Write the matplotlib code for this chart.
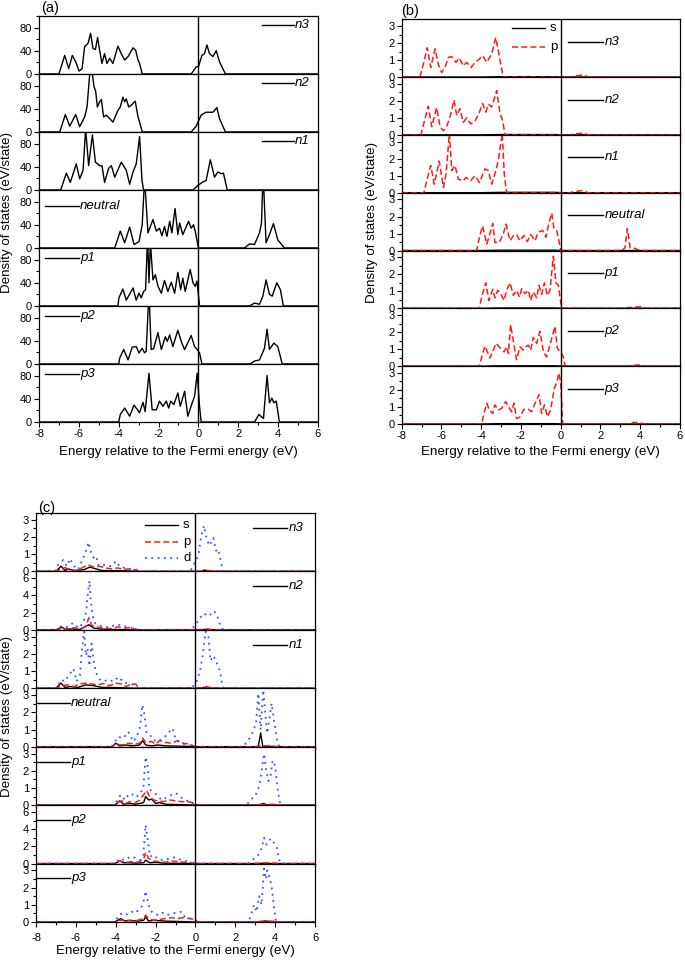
import numpy as np
from matplotlib import pyplot as plt
from matplotlib.ticker import MultipleLocator

plt.rcParams['font.family'] = ['Liberation Sans', 'DejaVu Sans']
plt.rcParams['axes.unicode_minus'] = False

# ---------------- (a) total DOS, (E, DOS) pairs ----------------
a_n3 = [(-8, 0), (-7.0, 0), (-6.71, 32), (-6.51, 9), (-6.33, 32), (-6.16, 21), (-5.99, 5), (-5.84, 9),
        (-5.71, 47), (-5.54, 53), (-5.41, 70), (-5.29, 44), (-5.17, 42), (-5.06, 63), (-4.96, 41),
        (-4.84, 18), (-4.71, 35), (-4.59, 18), (-4.45, 27), (-4.29, 18), (-4.04, 48), (-3.87, 35),
        (-3.70, 24), (-3.53, 30), (-3.28, 45), (-3.15, 41), (-3.03, 24), (-2.95, 18), (-2.82, 0),
        (-0.36, 0), (-0.11, 12), (0.01, 13), (0.18, 32), (0.31, 35), (0.43, 50), (0.56, 35),
        (0.73, 30), (0.90, 40), (1.06, 21), (1.36, 0), (6, 0)]
a_n2 = [(-8, 0), (-6.96, 0), (-6.68, 30), (-6.46, 10), (-6.16, 30), (-5.96, 9), (-5.71, 26), (-5.59, 43),
        (-5.46, 98), (-5.38, 115), (-5.24, 78), (-5.16, 71), (-5.07, 43), (-4.96, 52), (-4.87, 56),
        (-4.76, 26), (-4.62, 29), (-4.45, 23), (-4.29, 17), (-4.04, 37), (-3.92, 43), (-3.79, 60),
        (-3.70, 52), (-3.62, 57), (-3.50, 43), (-3.37, 46), (-3.17, 53), (-3.03, 26), (-2.95, 17),
        (-2.82, 0), (-0.36, 0), (-0.11, 10), (0.14, 29), (0.39, 34), (0.73, 34), (0.93, 42),
        (1.06, 23), (1.36, 0), (6, 0)]
a_n1 = [(-8, 0), (-6.91, 0), (-6.63, 29), (-6.43, 13), (-6.13, 45), (-5.96, 19), (-5.79, 34), (-5.66, 105),
        (-5.51, 42), (-5.32, 95), (-5.17, 48), (-4.96, 42), (-4.84, 42), (-4.71, 13), (-4.51, 37),
        (-4.37, 42), (-4.20, 22), (-3.87, 48), (-3.62, 34), (-3.45, 10), (-3.28, 31), (-3.12, 45),
        (-2.95, 92), (-2.83, 16), (-2.75, 0), (-0.27, 0), (-0.02, 8), (0.23, 14), (0.39, 16),
        (0.60, 52), (0.81, 22), (0.98, 31), (1.15, 28), (1.26, 29), (1.45, 0), (6, 0)]
a_neutral = [(-8, 0), (-4.20, 0), (-3.92, 29), (-3.70, 9), (-3.45, 36), (-3.23, 6), (-2.98, 11), (-2.82, 40),
             (-2.70, 120), (-2.53, 26), (-2.28, 49), (-2.11, 29), (-1.95, 34), (-1.83, 21), (-1.70, 37),
             (-1.58, 20), (-1.44, 46), (-1.33, 26), (-1.17, 68), (-1.03, 23), (-0.94, 43), (-0.78, 23),
             (-0.49, 46), (-0.36, 34), (-0.24, 40), (-0.14, 26), (0.0, 0), (2.32, 0), (2.57, 7),
             (2.82, 6), (3.07, 26), (3.17, 43), (3.25, 130), (3.40, 9), (3.57, 23), (3.77, 42),
             (3.99, 14), (4.32, 0), (6, 0)]
a_p1 = [(-8, 0), (-4.04, 0), (-3.99, 14), (-3.79, 29), (-3.62, 10), (-3.28, 31), (-3.12, 10), (-2.98, 22),
        (-2.87, 14), (-2.75, 25), (-2.65, 28), (-2.55, 120), (-2.48, 40), (-2.41, 110), (-2.28, 45),
        (-2.16, 54), (-2.03, 34), (-1.86, 22), (-1.70, 44), (-1.53, 25), (-1.36, 41), (-1.19, 22),
        (-1.03, 58), (-0.89, 28), (-0.78, 48), (-0.66, 25), (-0.41, 63), (-0.27, 40), (-0.16, 34),
        (-0.07, 43), (0.06, 0), (2.57, 0), (2.82, 5), (3.07, 3), (3.24, 17), (3.40, 45), (3.57, 20),
        (3.71, 17), (3.94, 40), (4.12, 28), (4.27, 0), (6, 0)]
a_p2 = [(-8, 0), (-4.00, 0), (-3.95, 10), (-3.75, 25), (-3.53, 7), (-3.32, 29), (-3.12, 30), (-2.98, 19),
        (-2.82, 27), (-2.70, 19), (-2.62, 22), (-2.48, 125), (-2.37, 25), (-2.25, 26), (-2.03, 54),
        (-1.86, 25), (-1.66, 47), (-1.56, 39), (-1.44, 50), (-1.28, 30), (-1.03, 58), (-0.83, 36),
        (-0.69, 25), (-0.36, 49), (-0.19, 30), (-0.06, 25), (0.06, 19), (0.18, 0), (2.60, 0),
        (2.82, 5), (3.07, 7), (3.32, 27), (3.45, 60), (3.57, 25), (3.79, 36), (3.99, 30), (4.21, 0),
        (6, 0)]
a_p3 = [(-8, 0), (-4.00, 0), (-3.92, 13), (-3.70, 24), (-3.45, 10), (-3.23, 29), (-2.95, 16), (-2.78, 34),
        (-2.67, 18), (-2.48, 84), (-2.32, 21), (-2.11, 21), (-1.95, 36), (-1.78, 27), (-1.61, 36),
        (-1.49, 24), (-1.39, 36), (-1.23, 30), (-1.03, 50), (-0.91, 27), (-0.69, 53), (-0.53, 10),
        (-0.31, 33), (-0.19, 44), (-0.06, 84), (0.06, 27), (0.14, 0), (2.82, 0), (3.04, 13),
        (3.27, 6), (3.45, 80), (3.57, 33), (3.69, 41), (3.79, 33), (3.91, 36), (4.07, 0), (6, 0)]

# ---------------- (b) s and p projected DOS ----------------
b_n3_p = [(-8, 0), (-7.08, 0), (-6.91, 0.76), (-6.71, 1.72), (-6.54, 0.56), (-6.32, 1.66), (-6.16, 0.76),
          (-5.99, 0.26), (-5.82, 0.56), (-5.65, 1.16), (-5.48, 1.2), (-5.27, 0.86), (-5.10, 1.12),
          (-4.90, 0.66), (-4.73, 0.86), (-4.51, 0.56), (-4.31, 0.86), (-4.09, 1.06), (-3.93, 1.26),
          (-3.72, 0.86), (-3.47, 1.36), (-3.27, 2.32), (-3.14, 1.56), (-3.02, 0.76), (-2.89, 0),
          (0.47, 0), (0.64, 0.05), (1.10, 0.12), (1.39, 0), (6, 0)]
b_n2_p = [(-8, 0), (-7.03, 0), (-6.83, 0.94), (-6.66, 1.68), (-6.49, 0.48), (-6.24, 1.6), (-6.07, 0.48),
          (-5.90, 0.24), (-5.74, 0.48), (-5.57, 1.04), (-5.37, 2.04), (-5.23, 1.14), (-5.07, 1.54),
          (-4.90, 0.74), (-4.73, 1.0), (-4.53, 0.64), (-4.31, 0.8), (-4.09, 1.34), (-3.93, 1.84),
          (-3.76, 1.34), (-3.64, 1.8), (-3.47, 1.64), (-3.22, 2.6), (-3.05, 1.24), (-2.92, 0.84),
          (-2.80, 0), (0.47, 0), (0.64, 0.05), (1.14, 0.1), (1.39, 0), (6, 0)]
b_n1_p = [(-8, 0), (-6.88, 0), (-6.74, 0.7), (-6.54, 1.6), (-6.36, 0.5), (-6.11, 1.86), (-5.90, 0.3),
          (-5.77, 1.1), (-5.60, 3.5), (-5.48, 1.3), (-5.32, 1.6), (-5.15, 0.8), (-4.90, 0.7),
          (-4.76, 0.9), (-4.53, 0.7), (-4.31, 1.0), (-4.09, 0.6), (-3.81, 1.4), (-3.64, 1.3),
          (-3.47, 0.5), (-3.31, 1.1), (-3.14, 1.9), (-2.94, 3.5), (-2.84, 1.1), (-2.72, 0),
          (0.47, 0), (0.64, 0.05), (1.05, 0.12), (1.39, 0), (6, 0)]
b_neutral_p = [(-8, 0), (-4.23, 0), (-4.09, 0.78), (-3.93, 1.45), (-3.72, 0.37), (-3.59, 0.88), (-3.42, 1.59),
               (-3.31, 0.47), (-3.09, 0.47), (-2.89, 0.98), (-2.75, 1.55), (-2.55, 0.57), (-2.38, 0.88),
               (-2.22, 0.94), (-2.05, 0.57), (-1.85, 0.88), (-1.68, 0.53), (-1.51, 0.94), (-1.29, 0.57),
               (-1.13, 1.08), (-0.91, 1.18), (-0.74, 0.78), (-0.62, 1.49), (-0.45, 2.2), (-0.34, 1.29),
               (-0.20, 1.18), (-0.09, 0.57), (0.0, 0), (3.07, 0), (3.23, 0.16), (3.35, 1.29),
               (3.49, 0.16), (3.74, 0.12), (3.99, 0), (6, 0)]
b_p1_p = [(-8, 0), (-4.09, 0), (-3.98, 0.66), (-3.77, 1.5), (-3.61, 0.46), (-3.42, 1.12), (-3.31, 0.62),
          (-3.17, 1.06), (-3.02, 0.86), (-2.85, 0.46), (-2.72, 1.06), (-2.55, 1.5), (-2.38, 0.76),
          (-2.22, 1.06), (-2.08, 0.66), (-1.96, 1.16), (-1.80, 0.86), (-1.63, 1.06), (-1.51, 0.46),
          (-1.38, 0.96), (-1.21, 0.62), (-1.09, 1.36), (-0.96, 0.82), (-0.82, 1.5), (-0.67, 0.76),
          (-0.54, 1.06), (-0.37, 3.06), (-0.24, 1.5), (-0.12, 1.36), (0.0, 0.36), (0.05, 0),
          (2.98, 0), (3.49, 0.05), (4.07, 0.1), (4.24, 0), (6, 0)]
b_p2_p = [(-8, 0), (-4.09, 0), (-3.93, 0.74), (-3.81, 1.18), (-3.56, 0.48), (-3.25, 1.34), (-3.02, 1.04),
          (-2.85, 0.84), (-2.72, 1.14), (-2.63, 0.74), (-2.52, 2.44), (-2.38, 1.44), (-2.22, 0.38),
          (-2.05, 1.14), (-1.88, 0.94), (-1.75, 1.14), (-1.63, 1.24), (-1.51, 0.94), (-1.38, 1.7),
          (-1.21, 1.34), (-1.04, 2.04), (-0.87, 0.84), (-0.71, 0.54), (-0.54, 1.24), (-0.29, 2.34),
          (-0.17, 1.04), (0.0, 0.84), (0.13, 0.54), (0.22, 0), (3.32, 0), (3.57, 0.05), (4.07, 0.08),
          (4.24, 0), (6, 0)]
b_p3_p = [(-8, 0), (-3.98, 0), (-3.86, 0.62), (-3.72, 1.22), (-3.59, 0.82), (-3.42, 0.62), (-3.31, 1.12),
          (-3.14, 0.82), (-2.97, 0.92), (-2.77, 1.32), (-2.63, 1.02), (-2.47, 0.72), (-2.35, 1.22),
          (-2.22, 0.32), (-2.05, 0.42), (-1.85, 0.86), (-1.63, 0.86), (-1.46, 0.72), (-1.29, 1.22),
          (-1.09, 1.72), (-0.96, 0.62), (-0.82, 1.12), (-0.67, 0.42), (-0.51, 0.82), (-0.32, 2.12),
          (-0.20, 2.42), (-0.09, 3.0), (0.0, 2.42), (0.10, 0), (3.49, 0), (3.65, 0.1), (4.07, 0.05),
          (4.24, 0), (6, 0)]
b_s = [(-8, 0), (-4.0, 0), (-3.0, 0.02), (-0.3, 0.02), (0.1, 0), (6, 0)]

# ---------------- (c) s, p and d projected DOS ----------------
c_n3_s = [(-8, 0), (-7.0, 0), (-6.75, 0.3), (-6.55, 0.05), (-6.4, 0.15), (-6.1, 0.05), (-5.6, 0.1),
          (-5.3, 0.25), (-5.0, 0.15), (-4.7, 0.05), (-4.3, 0.05), (-3.5, 0.03), (-2.8, 0), (0.3, 0),
          (0.45, 0.08), (0.65, 0.02), (0.9, 0), (6, 0)]
c_n3_p = [(-8, 0), (-7.05, 0), (-6.8, 0.1), (-6.55, 0.22), (-6.3, 0.1), (-6.0, 0.05), (-5.7, 0.2),
          (-5.4, 0.38), (-5.1, 0.25), (-4.8, 0.3), (-4.5, 0.2), (-4.2, 0.15), (-3.9, 0.2), (-3.6, 0.12),
          (-3.3, 0.15), (-3.0, 0.08), (-2.78, 0), (0.2, 0), (0.5, 0.06), (0.9, 0.03), (1.4, 0), (6, 0)]
c_n3_d = [(-8, 0), (-7.05, 0), (-6.88, 0.4), (-6.63, 0.66), (-6.46, 0.3), (-6.29, 0.74), (-6.13, 0.34),
          (-5.88, 0.1), (-5.71, 0.6), (-5.54, 1.0), (-5.37, 1.7), (-5.26, 1.2), (-5.12, 0.8), (-4.99, 0.9),
          (-4.87, 0.34), (-4.71, 0.4), (-4.45, 0.34), (-4.20, 0.3), (-3.99, 0.6), (-3.79, 0.26),
          (-3.54, 0.2), (-3.28, 0.14), (-2.95, 0.1), (-2.78, 0), (-0.27, 0), (-0.11, 0.34), (0.14, 0.9),
          (0.28, 2.0), (0.43, 2.66), (0.56, 1.9), (0.70, 1.5), (0.90, 1.94), (1.03, 1.2), (1.15, 1.3),
          (1.36, 0.1), (1.43, 0), (6, 0)]
c_n2_s = [(-8, 0), (-7.0, 0), (-6.7, 0.3), (-6.5, 0.05), (-6.2, 0.1), (-5.8, 0.05), (-5.35, 0.6),
          (-5.1, 0.2), (-4.8, 0.1), (-4.3, 0.05), (-3.0, 0), (0.3, 0), (0.6, 0.08), (0.9, 0), (6, 0)]
c_n2_p = [(-8, 0), (-7.0, 0), (-6.7, 0.15), (-6.4, 0.1), (-6.1, 0.25), (-5.8, 0.1), (-5.5, 0.4),
          (-5.35, 1.4), (-5.2, 0.5), (-4.9, 0.3), (-4.6, 0.2), (-4.2, 0.15), (-3.9, 0.35), (-3.6, 0.2),
          (-3.3, 0.25), (-3.0, 0.1), (-2.85, 0), (0.3, 0.03), (0.8, 0.05), (1.3, 0), (6, 0)]
c_n2_d = [(-8, 0), (-6.96, 0), (-6.71, 0.48), (-6.46, 0.32), (-6.13, 0.8), (-5.88, 0.2), (-5.63, 0.8),
          (-5.49, 2.0), (-5.41, 4.0), (-5.32, 5.7), (-5.26, 3.6), (-5.16, 1.6), (-5.04, 0.8), (-4.79, 0.48),
          (-4.45, 0.32), (-4.12, 0.48), (-3.87, 0.6), (-3.70, 0.48), (-3.37, 0.32), (-3.12, 0.2),
          (-2.87, 0), (-0.27, 0), (-0.02, 0.48), (0.23, 1.4), (0.43, 1.92), (0.60, 1.6), (0.76, 1.8),
          (0.93, 2.2), (1.10, 1.6), (1.26, 0.4), (1.40, 0), (6, 0)]
c_n1_s = [(-8, 0), (-7.0, 0), (-6.75, 0.3), (-6.55, 0.05), (-6.3, 0.1), (-5.9, 0.05), (-5.5, 0.2),
          (-5.1, 0.15), (-4.7, 0.05), (-4.3, 0.05), (-3.0, 0), (0.3, 0), (0.55, 0.08), (0.8, 0), (6, 0)]
c_n1_p = [(-8, 0), (-7.0, 0), (-6.7, 0.15), (-6.4, 0.2), (-6.1, 0.1), (-5.8, 0.25), (-5.5, 0.3),
          (-5.2, 0.25), (-4.9, 0.2), (-4.6, 0.28), (-4.3, 0.15), (-4.0, 0.3), (-3.7, 0.25), (-3.5, 0.1),
          (-3.3, 0.2), (-3.0, 0.25), (-2.85, 0), (0.3, 0.03), (0.7, 0.05), (1.2, 0), (6, 0)]
c_n1_d = [(-8, 0), (-6.96, 0), (-6.75, 0.5), (-6.55, 0.4), (-6.38, 0.7), (-6.13, 1.14), (-5.96, 0.4),
          (-5.79, 0.8), (-5.71, 2.1), (-5.59, 3.3), (-5.49, 1.9), (-5.41, 2.3), (-5.32, 1.3), (-5.21, 2.6),
          (-5.12, 1.7), (-4.99, 0.9), (-4.79, 0.5), (-4.62, 0.4), (-4.37, 0.5), (-4.12, 0.4), (-3.84, 0.66),
          (-3.62, 0.34), (-3.37, 0.3), (-3.12, 0.2), (-2.87, 0), (-0.19, 0), (0.06, 0.4), (0.23, 1.0),
          (0.36, 1.9), (0.51, 3.3), (0.65, 3.0), (0.76, 1.6), (0.90, 1.9), (1.06, 1.5), (1.23, 1.0),
          (1.36, 0.1), (1.43, 0), (6, 0)]
c_neutral_s = [(-8, 0), (-4.2, 0), (-4.0, 0.2), (-3.8, 0.05), (-3.5, 0.1), (-3.2, 0.05), (-2.8, 0.1),
               (-2.65, 0.35), (-2.5, 0.1), (-2.2, 0.05), (-1.9, 0.1), (-1.5, 0.05), (-0.5, 0.02), (0.0, 0),
               (3.15, 0), (3.27, 0.8), (3.38, 0), (3.6, 0.02), (4.0, 0), (6, 0)]
c_neutral_p = [(-8, 0), (-4.2, 0), (-4.0, 0.15), (-3.7, 0.1), (-3.4, 0.2), (-3.0, 0.15), (-2.8, 0.2),
               (-2.65, 0.5), (-2.5, 0.25), (-2.2, 0.3), (-2.0, 0.15), (-1.8, 0.35), (-1.5, 0.25), (-1.2, 0.2),
               (-0.9, 0.35), (-0.6, 0.2), (-0.3, 0.15), (0.0, 0), (3.0, 0), (3.3, 0.05), (3.8, 0.04),
               (4.2, 0), (6, 0)]
c_neutral_d = [(-8, 0), (-4.20, 0), (-4.04, 0.3), (-3.87, 0.58), (-3.62, 0.49), (-3.37, 0.87), (-3.12, 0.3),
               (-2.95, 0.58), (-2.78, 1.16), (-2.67, 2.43), (-2.57, 1.94), (-2.45, 0.78), (-2.28, 0.68),
               (-2.12, 0.39), (-1.87, 0.3), (-1.62, 0.49), (-1.45, 0.68), (-1.31, 0.87), (-1.15, 1.07),
               (-1.03, 0.58), (-0.86, 0.3), (-0.61, 0.16), (-0.11, 0.04), (0.0, 0), (2.40, 0), (2.65, 0.39),
               (2.82, 0.68), (3.04, 1.36), (3.15, 3.1), (3.27, 0.97), (3.40, 3.3), (3.52, 1.75), (3.60, 0.78),
               (3.70, 1.55), (3.82, 2.52), (3.94, 1.55), (4.07, 0.49), (4.20, 0), (6, 0)]
c_p1_s = [(-8, 0), (-4.05, 0), (-3.8, 0.25), (-3.6, 0.05), (-3.3, 0.1), (-3.0, 0.05), (-2.6, 0.15),
          (-2.5, 0.5), (-2.35, 0.3), (-2.2, 0.35), (-2.0, 0.1), (-1.8, 0.15), (-1.5, 0.05), (-0.5, 0.02),
          (0.0, 0), (3.2, 0), (3.4, 0.1), (3.6, 0), (6, 0)]
c_p1_p = [(-8, 0), (-4.05, 0), (-3.9, 0.15), (-3.7, 0.25), (-3.5, 0.1), (-3.3, 0.2), (-3.0, 0.15),
          (-2.8, 0.3), (-2.6, 0.6), (-2.45, 0.85), (-2.3, 0.5), (-2.1, 0.3), (-1.9, 0.25), (-1.6, 0.2),
          (-1.3, 0.3), (-1.0, 0.25), (-0.7, 0.2), (-0.4, 0.2), (-0.15, 0.15), (0.05, 0), (2.8, 0),
          (3.4, 0.05), (4.0, 0.04), (4.3, 0), (6, 0)]
c_p1_d = [(-8, 0), (-4.04, 0), (-3.92, 0.3), (-3.75, 0.6), (-3.54, 0.3), (-3.32, 0.66), (-3.12, 0.6),
          (-2.95, 0.46), (-2.78, 0.74), (-2.62, 0.9), (-2.50, 2.8), (-2.41, 2.4), (-2.31, 0.9), (-2.15, 0.8),
          (-1.95, 0.6), (-1.70, 0.3), (-1.44, 0.46), (-1.19, 0.6), (-0.98, 0.7), (-0.78, 0.5), (-0.53, 0.3),
          (-0.27, 0.2), (-0.11, 0.06), (0.03, 0), (2.57, 0), (2.74, 0.3), (2.99, 0.5), (3.20, 1.1),
          (3.32, 2.0), (3.44, 3.0), (3.54, 2.1), (3.66, 1.4), (3.77, 1.7), (3.87, 2.6), (3.99, 2.3),
          (4.11, 1.1), (4.21, 0.3), (4.27, 0), (6, 0)]
c_p2_s = [(-8, 0), (-4.05, 0), (-3.8, 0.3), (-3.6, 0.1), (-3.3, 0.1), (-3.0, 0.05), (-2.6, 0.1),
          (-2.5, 0.4), (-2.3, 0.1), (-2.0, 0.15), (-1.6, 0.05), (0.0, 0), (3.2, 0), (3.5, 0.05),
          (3.8, 0), (6, 0)]
c_p2_p = [(-8, 0), (-4.05, 0), (-3.8, 0.3), (-3.5, 0.15), (-3.2, 0.2), (-2.9, 0.15), (-2.6, 0.5),
          (-2.5, 1.3), (-2.35, 0.6), (-2.1, 0.3), (-1.8, 0.2), (-1.5, 0.15), (-1.2, 0.3), (-0.9, 0.25),
          (-0.6, 0.15), (-0.2, 0.1), (0.0, 0), (2.8, 0), (3.5, 0.08), (4.0, 0.05), (4.3, 0), (6, 0)]
c_p2_d = [(-8, 0), (-4.04, 0), (-3.79, 0.6), (-3.54, 0.4), (-3.28, 0.8), (-3.03, 0.68), (-2.78, 0.4),
          (-2.62, 0.88), (-2.50, 4.5), (-2.40, 2.8), (-2.28, 0.8), (-2.11, 1.0), (-1.86, 0.48),
          (-1.61, 0.4), (-1.28, 0.6), (-1.03, 0.72), (-0.78, 0.48), (-0.53, 0.32), (-0.19, 0.08),
          (-0.02, 0), (2.65, 0), (2.90, 0.48), (3.15, 1.0), (3.32, 1.8), (3.44, 3.0), (3.57, 2.2),
          (3.77, 2.9), (3.94, 2.4), (4.07, 2.0), (4.21, 0.4), (4.27, 0), (6, 0)]
c_p3_s = [(-8, 0), (-4.05, 0), (-3.75, 0.2), (-3.55, 0.05), (-3.3, 0.1), (-2.9, 0.05), (-2.6, 0.1),
          (-2.5, 0.3), (-2.35, 0.05), (-2.1, 0.1), (-1.5, 0.05), (0.0, 0), (3.3, 0), (3.5, 0.06),
          (3.8, 0), (6, 0)]
c_p3_p = [(-8, 0), (-4.05, 0), (-3.8, 0.1), (-3.5, 0.1), (-3.2, 0.05), (-2.9, 0.1), (-2.6, 0.2),
          (-2.5, 0.4), (-2.35, 0.2), (-2.1, 0.1), (-1.8, 0.15), (-1.5, 0.2), (-1.2, 0.25), (-0.9, 0.2),
          (-0.6, 0.25), (-0.3, 0.2), (0.0, 0.15), (0.1, 0), (2.8, 0), (3.5, 0.06), (4.0, 0.04),
          (4.1, 0), (6, 0)]
c_p3_d = [(-8, 0), (-4.04, 0), (-3.84, 0.4), (-3.62, 0.54), (-3.42, 0.44), (-3.20, 0.6), (-3.03, 0.5),
          (-2.87, 0.7), (-2.70, 0.9), (-2.58, 1.3), (-2.50, 1.8), (-2.41, 1.3), (-2.28, 0.7), (-2.11, 0.5),
          (-1.86, 0.4), (-1.65, 0.54), (-1.41, 0.4), (-1.19, 0.5), (-0.94, 0.54), (-0.69, 0.6),
          (-0.53, 0.3), (-0.27, 0.2), (-0.02, 0.1), (0.06, 0), (2.65, 0), (2.77, 0.3), (2.94, 1.0),
          (3.07, 0.6), (3.20, 1.5), (3.32, 1.0), (3.44, 3.1), (3.54, 2.5), (3.60, 3.0), (3.71, 2.6),
          (3.82, 2.1), (3.94, 0.9), (4.04, 0), (6, 0)]

states = ['n3', 'n2', 'n1', 'neutral', 'p1', 'p2', 'p3']
a_curves = [a_n3, a_n2, a_n1, a_neutral, a_p1, a_p2, a_p3]
b_p_curves = [b_n3_p, b_n2_p, b_n1_p, b_neutral_p, b_p1_p, b_p2_p, b_p3_p]
c_s_curves = [c_n3_s, c_n2_s, c_n1_s, c_neutral_s, c_p1_s, c_p2_s, c_p3_s]
c_p_curves = [c_n3_p, c_n2_p, c_n1_p, c_neutral_p, c_p1_p, c_p2_p, c_p3_p]
c_d_curves = [c_n3_d, c_n2_d, c_n1_d, c_neutral_d, c_p1_d, c_p2_d, c_p3_d]
c_ymax = [3.4, 6.8, 3.4, 3.4, 3.4, 6.8, 3.4]

RED = '#ff1a1a'
BLUE = '#3355ff'
S_STYLE = dict(color='k', lw=1.0, ls='-')
P_STYLE = dict(color=RED, lw=1.1, ls=(0, (4, 2)))
D_STYLE = dict(color=BLUE, lw=1.3, ls=(0, (1, 2.5)))
FS = 9.6

fig = plt.figure(figsize=(6.85, 9.61), dpi=100)


def xy(pts):
    arr = np.array(pts, dtype=float)
    return arr[:, 0], arr[:, 1]


def style(ax, last, ymax, major, minor, xpad=1.5):
    ax.set_xlim(-8, 6)
    ax.set_ylim(0, ymax)
    ax.xaxis.set_major_locator(MultipleLocator(2))
    ax.xaxis.set_minor_locator(MultipleLocator(1))
    ax.yaxis.set_major_locator(MultipleLocator(major))
    ax.yaxis.set_minor_locator(MultipleLocator(minor))
    ax.tick_params(which='both', direction='out', width=0.8, labelsize=8, pad=1.5)
    ax.tick_params(axis='x', pad=xpad)
    ax.tick_params(which='major', length=3.5)
    ax.tick_params(which='minor', length=2)
    if not last:
        ax.tick_params(axis='x', labelbottom=False)
    for sp in ax.spines.values():
        sp.set_linewidth(0.9)
    ax.axvline(0, color='k', lw=1.0)


def key(ax, x0, x1, y, text, xt, italic=True, **line):
    # legend-like sample line + label, placed in axes fraction
    kw = dict(S_STYLE)
    kw.update(line)
    ax.plot([x0, x1], [y, y], transform=ax.transAxes, clip_on=False, **kw)
    ax.text(xt, y, text, transform=ax.transAxes, fontsize=9.5,
            style='italic' if italic else 'normal', va='center', ha='left')


# ---------- (a) ----------
gs_a = fig.add_gridspec(7, 1, left=0.057, right=0.464, top=0.9834, bottom=0.5609, hspace=0)
for i, name in enumerate(states):
    ax = fig.add_subplot(gs_a[i])
    e, d = xy(a_curves[i])
    ax.plot(e, d, color='k', lw=1.0)
    style(ax, i == 6, 100, 40, 20)
    if i < 3:
        key(ax, 0.80, 0.915, 0.84, name, 0.918)
    else:
        key(ax, 0.02, 0.143, 0.83 if i > 3 else 0.72, name, 0.147)

# ---------- (b) ----------
gs_b = fig.add_gridspec(7, 1, left=0.5864, right=0.9927, top=0.980, bottom=0.5588, hspace=0)
for i, name in enumerate(states):
    ax = fig.add_subplot(gs_b[i])
    e, d = xy(b_s)
    ax.plot(e, d, **S_STYLE)
    e, d = xy(b_p_curves[i])
    ax.plot(e, d, **P_STYLE)
    style(ax, i == 6, 3.4, 1, 0.5)
    key(ax, 0.598, 0.724, 0.61, name, 0.728)
    if i == 0:
        key(ax, 0.397, 0.515, 0.844, 's', 0.533, italic=False)
        key(ax, 0.397, 0.515, 0.515, 'p', 0.533, italic=False, **P_STYLE)

# ---------- (c) ----------
gs_c = fig.add_gridspec(7, 1, left=0.0526, right=0.4599, top=0.4662, bottom=0.0406, hspace=0)
for i, name in enumerate(states):
    ax = fig.add_subplot(gs_c[i])
    e, d = xy(c_s_curves[i])
    ax.plot(e, d, **S_STYLE)
    e, d = xy(c_p_curves[i])
    ax.plot(e, d, **P_STYLE)
    e, d = xy(c_d_curves[i])
    ax.plot(e, d, **D_STYLE)
    if c_ymax[i] > 5:
        style(ax, i == 6, c_ymax[i], 2, 1, xpad=4.5)
    else:
        style(ax, i == 6, c_ymax[i], 1, 0.5, xpad=4.5)
    if i < 3:
        key(ax, 0.778, 0.90, 0.745, name, 0.905)
    else:
        key(ax, 0.0, 0.122, 0.745, name, 0.126)
    if i == 0:
        key(ax, 0.39, 0.509, 0.795, 's', 0.527, italic=False)
        key(ax, 0.39, 0.509, 0.509, 'p', 0.527, italic=False, **P_STYLE)
        key(ax, 0.39, 0.509, 0.224, 'd', 0.527, italic=False, **D_STYLE)

# ---------- labels ----------
ylab = 'Density of states (eV/state)'
xlab = 'Energy relative to the Fermi energy (eV)'
fig.text(0.0102, 0.779, ylab, rotation=90, ha='center', va='center', fontsize=FS)
fig.text(0.543, 0.769, ylab, rotation=90, ha='center', va='center', fontsize=FS)
fig.text(0.0102, 0.254, ylab, rotation=90, ha='center', va='center', fontsize=FS)
fig.text(0.2606, 0.530, xlab, ha='center', va='center', fontsize=FS)
fig.text(0.7896, 0.530, xlab, ha='center', va='center', fontsize=FS)
fig.text(0.256, 0.0107, xlab, ha='center', va='center', fontsize=FS)
fig.text(0.060, 0.992, '(a)', ha='left', va='center', fontsize=10.5)
fig.text(0.586, 0.9886, '(b)', ha='left', va='center', fontsize=10.5)
fig.text(0.055, 0.4714, '(c)', ha='left', va='center', fontsize=10.5)

plt.savefig('out.png', dpi=100)
plt.close(fig)
